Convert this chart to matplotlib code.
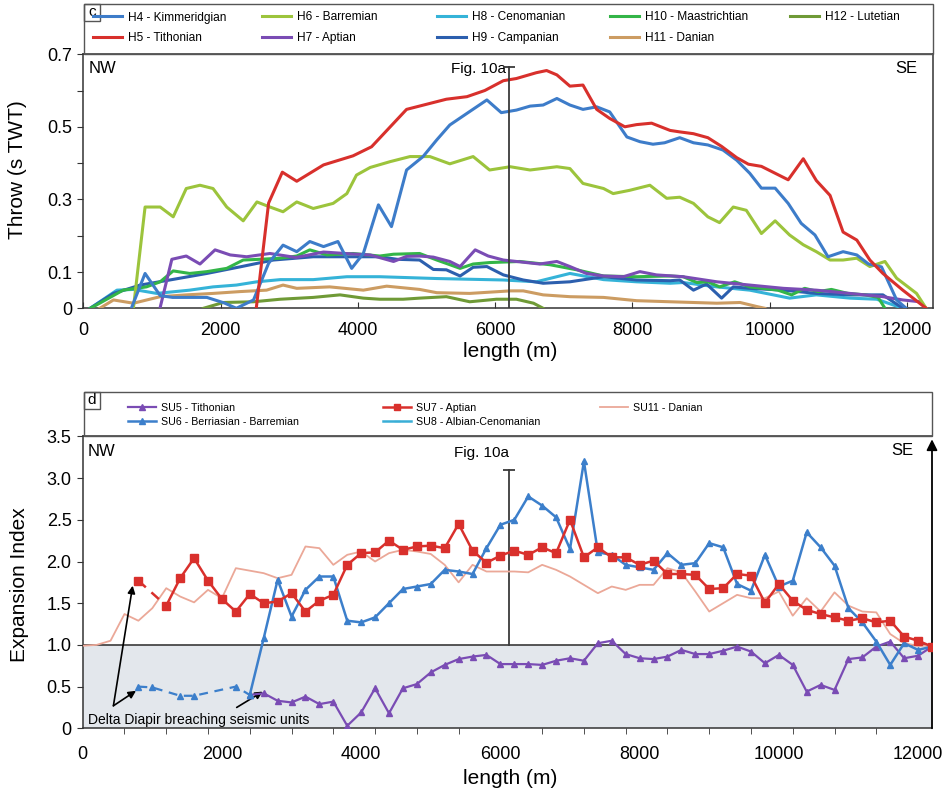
import numpy as np
import matplotlib
matplotlib.use("Agg")
import matplotlib.pyplot as plt
from matplotlib.patches import Rectangle

plt.rcParams['font.family'] = ['Liberation Sans', 'DejaVu Sans']

# ---------------- Panel c: fault throw along strike (length m, throw s TWT) ----------------
h4_kimmeridgian = np.array([
    [700, 0], [900, 0.096], [1120, 0.035], [1300, 0.03], [1500, 0.03], [1800, 0.03], [2050, 0.015],
    [2230, 0.0], [2480, 0.023], [2700, 0.124], [2910, 0.174], [3110, 0.156], [3300, 0.184],
    [3500, 0.17], [3710, 0.184], [3910, 0.11], [4080, 0.151], [4300, 0.285], [4490, 0.225],
    [4710, 0.381], [4950, 0.418], [5150, 0.464], [5340, 0.505], [5590, 0.537], [5880, 0.574],
    [6090, 0.539], [6310, 0.546], [6510, 0.557], [6700, 0.56], [6900, 0.578], [7090, 0.56],
    [7280, 0.548], [7480, 0.555], [7670, 0.541], [7920, 0.472], [8110, 0.459], [8300, 0.452],
    [8470, 0.456], [8690, 0.47], [8890, 0.456], [9100, 0.45], [9320, 0.436], [9520, 0.408],
    [9710, 0.372], [9880, 0.331], [10080, 0.331], [10270, 0.289], [10460, 0.234], [10660, 0.202],
    [10850, 0.142], [11070, 0.156], [11270, 0.147], [11440, 0.122], [11630, 0.114], [11850, 0.023],
    [11990, 0.0]])
h5_tithonian = np.array([
    [2520, 0], [2700, 0.29], [2900, 0.375], [3110, 0.35], [3500, 0.395], [3930, 0.42], [4200, 0.445],
    [4710, 0.548], [5290, 0.576], [5590, 0.583], [5850, 0.6], [6120, 0.627], [6310, 0.633],
    [6600, 0.649], [6750, 0.655], [6900, 0.643], [7090, 0.612], [7280, 0.615], [7480, 0.548],
    [7670, 0.523], [7890, 0.5], [8060, 0.506], [8280, 0.51], [8550, 0.49], [8690, 0.486],
    [8890, 0.481], [9100, 0.47], [9300, 0.446], [9520, 0.415], [9690, 0.397], [9880, 0.391],
    [10270, 0.354], [10490, 0.412], [10680, 0.352], [10880, 0.311], [11070, 0.21], [11270, 0.188],
    [11460, 0.133], [11650, 0.096], [11940, 0.05], [12280, 0.0]])
h6_barremian = np.array([
    [730, 0], [900, 0.279], [1120, 0.279], [1310, 0.252], [1500, 0.33], [1700, 0.339], [1890, 0.33],
    [2090, 0.279], [2330, 0.241], [2530, 0.293], [2720, 0.279], [2910, 0.266], [3110, 0.293],
    [3350, 0.275], [3640, 0.289], [3840, 0.316], [3980, 0.367], [4180, 0.388], [4470, 0.404],
    [4760, 0.418], [5050, 0.418], [5340, 0.398], [5680, 0.418], [5920, 0.381], [6220, 0.39],
    [6510, 0.381], [6900, 0.39], [7090, 0.385], [7280, 0.344], [7580, 0.33], [7720, 0.316],
    [7960, 0.325], [8255, 0.339], [8500, 0.303], [8690, 0.306], [8890, 0.289], [9100, 0.252],
    [9270, 0.236], [9470, 0.279], [9660, 0.27], [9880, 0.206], [10080, 0.241], [10290, 0.202],
    [10490, 0.175], [10680, 0.156], [10880, 0.133], [11070, 0.133], [11270, 0.138], [11460, 0.115],
    [11680, 0.129], [11850, 0.083], [12140, 0.041], [12280, 0.0]])
h7_aptian = np.array([
    [1117, 0], [1290, 0.135], [1500, 0.144], [1700, 0.122], [1920, 0.161], [2140, 0.147],
    [2380, 0.142], [2720, 0.151], [3100, 0.14], [3500, 0.155], [3900, 0.15], [4180, 0.147],
    [4520, 0.129], [4710, 0.143], [4900, 0.144], [5100, 0.141], [5340, 0.129], [5490, 0.115],
    [5710, 0.161], [5900, 0.144], [6120, 0.133], [6310, 0.129], [6650, 0.122], [6900, 0.129],
    [7090, 0.115], [7330, 0.096], [7580, 0.089], [7870, 0.087], [8110, 0.101], [8350, 0.092],
    [8740, 0.087], [9230, 0.073], [9710, 0.064], [10200, 0.055], [10680, 0.05], [11170, 0.041],
    [11650, 0.032], [11940, 0.023], [12190, 0.018], [12280, 0.0]])
h8_cenomanian = np.array([
    [100, 0], [490, 0.05], [730, 0.052], [1070, 0.041], [1550, 0.05], [1890, 0.059], [2230, 0.064],
    [2530, 0.073], [2870, 0.079], [3350, 0.079], [3840, 0.087], [4320, 0.087], [5150, 0.082],
    [6120, 0.078], [6600, 0.073], [7090, 0.096], [7580, 0.079], [8060, 0.073], [8550, 0.069],
    [8740, 0.071], [9230, 0.059], [9710, 0.05], [10290, 0.028], [10680, 0.037], [11170, 0.028],
    [11560, 0.025], [11940, 0.0]])
h9_campanian = np.array([
    [100, 0], [440, 0.041], [830, 0.064], [1260, 0.078], [1800, 0.096], [2280, 0.114], [2770, 0.133],
    [3350, 0.142], [3840, 0.142], [4320, 0.142], [4570, 0.135], [4900, 0.133], [5100, 0.107],
    [5290, 0.106], [5490, 0.089], [5680, 0.113], [5880, 0.115], [6120, 0.092], [6410, 0.078],
    [6700, 0.069], [7090, 0.073], [7580, 0.087], [8060, 0.078], [8550, 0.076], [8690, 0.078],
    [8890, 0.05], [9080, 0.067], [9300, 0.028], [9470, 0.059], [9710, 0.055], [10200, 0.05],
    [10680, 0.041], [11170, 0.037], [11650, 0.037], [11940, 0.0]])
h10_maastrichtian = np.array([
    [100, 0], [200, 0.01], [580, 0.05], [920, 0.059], [1120, 0.073], [1310, 0.103], [1550, 0.096],
    [1800, 0.101], [2090, 0.11], [2330, 0.133], [2570, 0.135], [2870, 0.138], [3110, 0.144],
    [3300, 0.161], [3550, 0.147], [3930, 0.151], [4320, 0.144], [4520, 0.149], [4900, 0.151],
    [5150, 0.133], [5490, 0.11], [5680, 0.122], [5920, 0.126], [6360, 0.129], [6800, 0.12],
    [7190, 0.106], [7580, 0.089], [8060, 0.087], [8550, 0.089], [8740, 0.087], [8940, 0.071],
    [9100, 0.073], [9270, 0.059], [9490, 0.073], [9710, 0.059], [9900, 0.055], [10120, 0.05],
    [10320, 0.037], [10510, 0.055], [10710, 0.046], [10900, 0.052], [11140, 0.041], [11390, 0.037],
    [11580, 0.03], [11680, 0.0]])
h11_danian = np.array([
    [240, 0], [440, 0.023], [730, 0.014], [1120, 0.032], [1500, 0.037], [1890, 0.041], [2280, 0.046],
    [2670, 0.05], [2910, 0.064], [3110, 0.055], [3590, 0.059], [4080, 0.05], [4420, 0.061],
    [4900, 0.052], [5150, 0.043], [5630, 0.041], [6220, 0.048], [6410, 0.048], [6700, 0.037],
    [7090, 0.032], [7580, 0.03], [8060, 0.021], [8550, 0.018], [9230, 0.014], [9570, 0.016],
    [9810, 0.005], [9930, 0.0]])
h12_lutetian = np.array([
    [1750, 0], [2040, 0.016], [2480, 0.018], [2870, 0.025], [3350, 0.03], [3740, 0.037], [4080, 0.028],
    [4320, 0.025], [4660, 0.025], [4900, 0.028], [5290, 0.032], [5630, 0.018], [6020, 0.025],
    [6310, 0.025], [6560, 0.014], [6700, 0.0]])

horizon_labels = ['H4 - Kimmeridgian', 'H5 - Tithonian', 'H6 - Barremian', 'H7 - Aptian',
                  'H8 - Cenomanian', 'H9 - Campanian', 'H10 - Maastrichtian', 'H11 - Danian',
                  'H12 - Lutetian']
horizon_data = [h4_kimmeridgian, h5_tithonian, h6_barremian, h7_aptian, h8_cenomanian,
                h9_campanian, h10_maastrichtian, h11_danian, h12_lutetian]
horizon_colors = ['#3d7cc9', '#d8302c', '#9cc43c', '#7a4cb4', '#35b3d8', '#2c5fae',
                  '#33b548', '#cc9c62', '#6f9a36']
draw_order = [8, 7, 4, 5, 6, 3, 2, 0, 1]

fig10a_top = 6200
fig10a_top_height = 0.666

# ---------------- Panel d: expansion index ----------------
su7_x = [800] + list(range(1200, 12201, 200))
su7_aptian = [1.77,
              1.47, 1.80, 2.04, 1.77, 1.55, 1.40, 1.61, 1.50, 1.52, 1.62, 1.40, 1.53, 1.60, 1.96,
              2.10, 2.11, 2.25, 2.14, 2.18, 2.19, 2.16, 2.45, 2.13, 1.985, 2.07, 2.13, 2.08, 2.17,
              2.10, 2.50, 2.05, 2.17, 2.05, 2.05, 1.96, 2.01, 1.85, 1.85, 1.84, 1.67, 1.68, 1.85,
              1.83, 1.505, 1.73, 1.53, 1.42, 1.37, 1.33, 1.29, 1.32, 1.27, 1.29, 1.10, 1.05, 0.98]

su6_breach_x = [800, 1000, 1400, 1600, 2200, 2400]
su6_breach = [0.50, 0.49, 0.39, 0.39, 0.50, 0.40]
su6_x = list(range(2400, 12201, 200))
su6_berriasian_barremian = [
    0.40, 1.08, 1.78, 1.34, 1.66, 1.82, 1.82, 1.29, 1.27, 1.33, 1.50, 1.67, 1.70, 1.73, 1.90,
    1.88, 1.85, 2.16, 2.44, 2.50, 2.78, 2.67, 2.53, 2.15, 3.20, 2.11, 2.08, 1.96, 1.93, 1.90,
    2.10, 1.96, 1.98, 2.22, 2.17, 1.73, 1.65, 2.08, 1.70, 1.77, 2.35, 2.17, 1.95, 1.44, 1.27,
    1.04, 0.76, 1.02, 0.94, 0.98]

su5_x = list(range(2400, 12201, 200))
su5_tithonian = [
    0.40, 0.42, 0.33, 0.31, 0.38, 0.29, 0.32, 0.03, 0.19, 0.48, 0.18, 0.48, 0.53, 0.67, 0.76,
    0.83, 0.86, 0.88, 0.77, 0.77, 0.77, 0.76, 0.81, 0.84, 0.81, 1.02, 1.05, 0.89, 0.84, 0.83,
    0.86, 0.94, 0.89, 0.89, 0.93, 0.98, 0.92, 0.78, 0.88, 0.76, 0.44, 0.52, 0.46, 0.83, 0.85,
    0.98, 1.04, 0.84, 0.87, 0.98]

su11_x = [0, 200] + list(range(400, 12201, 200))
su11_danian = [
    0.99, 1.00, 1.05, 1.37, 1.29, 1.44, 1.68, 1.58, 1.51, 1.66, 1.56, 1.92, 1.89, 1.86, 1.80,
    1.84, 2.18, 2.16, 1.96, 2.08, 2.12, 2.00, 2.10, 2.14, 2.12, 2.09, 1.96, 1.75, 1.96, 1.88,
    1.88, 1.88, 1.87, 1.96, 1.90, 1.82, 1.72, 1.62, 1.70, 1.66, 1.72, 1.72, 1.92, 1.87, 1.64,
    1.40, 1.50, 1.60, 1.56, 1.56, 1.64, 1.35, 1.56, 1.40, 1.63, 1.47, 1.40, 1.39, 1.13, 1.02,
    0.99, 0.99]

su8_x = []
su8_albian_cenomanian = []

fig10a_bottom = 6130
fig10a_bottom_height = 3.1
x_end_bottom = 12200

# ---------------- figure layout (pixel based) ----------------
W, H = 949, 797
fig = plt.figure(figsize=(W / 100, H / 100), dpi=100)


def fx(px):
    return px / W


def fy(py):
    return 1 - py / H


ax1 = fig.add_axes([fx(83.3), fy(308.3), fx(933) - fx(83.3), fy(54.2) - fy(308.3)])
ax2 = fig.add_axes([fx(82.7), fy(728.3), fx(932) - fx(82.7), fy(436.4) - fy(728.3)])

spine_col = '#333333'
for ax in (ax1, ax2):
    for s in ax.spines.values():
        s.set_color(spine_col)
        s.set_linewidth(1.1)

# ---- panel c ----
for i in draw_order:
    d = horizon_data[i]
    ax1.plot(d[:, 0], d[:, 1], color=horizon_colors[i], lw=2.2, solid_joinstyle='round',
             label=horizon_labels[i], zorder=3)

ax1.plot([fig10a_top, fig10a_top], [0, fig10a_top_height], color='#3a3a3a', lw=1.3, zorder=4)
ax1.plot([fig10a_top], [fig10a_top_height], marker='_', ms=8, mew=1.3, color='#3a3a3a', zorder=4)
ax1.annotate('Fig. 10a', xy=(fig10a_top, fig10a_top_height), xytext=(-2, -2),
             textcoords='offset points', ha='right', va='center', fontsize=11)

ax1.set_xlim(0, 12380)
ax1.set_ylim(0, 0.7)
ax1.set_xticks(range(0, 12001, 2000))
ax1.set_xticklabels([str(v) for v in range(0, 12001, 2000)])
ax1.set_yticks(np.round(np.arange(0, 0.71, 0.1), 1))
ax1.set_yticklabels(['0', '0.1', '', '0.3', '', '0.5', '', '0.7'])
ax1.tick_params(axis='x', direction='in', length=4, labelsize=13, pad=10, color=spine_col)
ax1.tick_params(axis='y', direction='out', length=4, labelsize=13, pad=4, color=spine_col)
ax1.text(0.006, 0.945, 'NW', transform=ax1.transAxes, ha='left', va='center', fontsize=12)
ax1.text(0.982, 0.945, 'SE', transform=ax1.transAxes, ha='right', va='center', fontsize=12)

fig.text(fx(510), fy(351), 'length (m)', ha='center', va='center', fontsize=15)
fig.text(fx(18), fy(170), 'Throw (s TWT)', ha='center', va='center', rotation=90, fontsize=15)

# legend frame and panel letter for c
fig.patches.append(Rectangle((fx(84), fy(54)), fx(933) - fx(84), fy(4) - fy(54),
                             transform=fig.transFigure, fill=False, edgecolor='#555555', lw=1.0))
fig.patches.append(Rectangle((fx(84), fy(21)), fx(100) - fx(84), fy(4) - fy(21),
                             transform=fig.transFigure, fill=False, edgecolor='#555555', lw=1.0))
fig.text(fx(92), fy(12), 'c', ha='center', va='center', fontsize=11)

handles1 = {lab: h for h, lab in zip(*ax1.get_legend_handles_labels())}
top_columns = [(93, ['H4 - Kimmeridgian', 'H5 - Tithonian']),
               (262, ['H6 - Barremian', 'H7 - Aptian']),
               (437, ['H8 - Cenomanian', 'H9 - Campanian']),
               (610, ['H10 - Maastrichtian', 'H11 - Danian']),
               (790, ['H12 - Lutetian'])]
for xpx, labs in top_columns:
    fig.legend([handles1[l] for l in labs], labs, loc='upper left',
               bbox_to_anchor=(fx(xpx), fy(11.5)), frameon=False, borderpad=0, borderaxespad=0,
               handlelength=2.4, handletextpad=0.5, labelspacing=0.75, fontsize=8.6)

# ---- panel d ----
ax2.fill_between([0, x_end_bottom], 0, 1, color='#e3e7ec', zorder=0, lw=0)
ax2.axhline(1.0, color='#3a3a3a', lw=1.2, zorder=1)
ax2.plot([fig10a_bottom, fig10a_bottom], [1.0, fig10a_bottom_height], color='#3a3a3a', lw=1.3, zorder=2)
ax2.plot([fig10a_bottom], [fig10a_bottom_height], marker='_', ms=8, mew=1.3, color='#3a3a3a', zorder=2)
ax2.text(fig10a_bottom, 3.30, 'Fig. 10a', ha='right', va='center', fontsize=11)

c_su5, c_su6, c_su7, c_su11, c_su8 = '#7a4cb4', '#3c7fcb', '#d9302c', '#eba898', '#3aaed6'

ax2.plot(su11_x, su11_danian, color=c_su11, lw=1.3, zorder=3, label='SU11 - Danian')
ax2.plot(su5_x, su5_tithonian, color=c_su5, lw=1.6, marker='^', ms=5, zorder=4,
         label='SU5 - Tithonian')
ax2.plot(su6_breach_x, su6_breach, color=c_su6, lw=1.6, ls=(0, (4, 3)), marker='^', ms=5, zorder=4)
ax2.plot(su6_x, su6_berriasian_barremian, color=c_su6, lw=1.8, marker='^', ms=5, zorder=5,
         label='SU6 - Berriasian - Barremian')
ax2.plot(su7_x[:2], su7_aptian[:2], color=c_su7, lw=1.8, ls=(0, (4, 3)), zorder=6)
ax2.plot(su7_x[0], su7_aptian[0], color=c_su7, marker='s', ms=6, zorder=6)
ax2.plot(su7_x[1:], su7_aptian[1:], color=c_su7, lw=1.8, marker='s', ms=6, zorder=6,
         label='SU7 - Aptian')
ax2.plot(su8_x, su8_albian_cenomanian, color=c_su8, lw=1.8, marker='_', ms=6,
         label='SU8 - Albian-Cenomanian')

ax2.set_xlim(0, x_end_bottom)
ax2.set_ylim(0, 3.5)
ax2.set_xticks(range(0, 12001, 2000))
ax2.set_xticklabels([str(v) for v in range(0, 12001, 2000)])
ax2.set_xticks(range(0, 12001, 600), minor=True)
ax2.set_yticks(np.arange(0, 3.51, 0.5))
ax2.set_yticklabels(['0', '0.5', '1.0', '1.5', '2.0', '2.5', '3.0', '3.5'])
ax2.tick_params(axis='x', which='major', length=0, labelsize=13, pad=13)
ax2.tick_params(axis='x', which='minor', direction='out', length=4, color=spine_col)
ax2.tick_params(axis='y', direction='out', length=4, labelsize=13, pad=4, color=spine_col)
ax2.spines['right'].set_visible(False)
ax2.annotate('', xy=(1, 0.99), xytext=(1, 0), xycoords='axes fraction',
             arrowprops=dict(arrowstyle='-|>', color='black', lw=1.3, mutation_scale=16,
                             shrinkA=0, shrinkB=0))
ax2.text(0.006, 0.947, 'NW', transform=ax2.transAxes, ha='left', va='center', fontsize=12)
ax2.text(0.978, 0.952, 'SE', transform=ax2.transAxes, ha='right', va='center', fontsize=12)

ax2.text(76, 0.10, 'Delta Diapir breaching seismic units', ha='left', va='center', fontsize=10)
arrow_kw = dict(arrowstyle='-|>', color='black', lw=1.2, mutation_scale=11, shrinkA=0, shrinkB=0)
ax2.annotate('', xy=(718, 1.71), xytext=(441, 0.27), arrowprops=arrow_kw)
ax2.annotate('', xy=(766, 0.45), xytext=(441, 0.27), arrowprops=arrow_kw)
ax2.annotate('', xy=(2586, 0.44), xytext=(2212, 0.25), arrowprops=arrow_kw)

fig.text(fx(510), fy(778), 'length (m)', ha='center', va='center', fontsize=15)
fig.text(fx(20), fy(585), 'Expansion Index', ha='center', va='center', rotation=90, fontsize=15)

fig.patches.append(Rectangle((fx(84), fy(436)), fx(932) - fx(84), fy(392) - fy(436),
                             transform=fig.transFigure, fill=False, edgecolor='#555555', lw=1.0))
fig.patches.append(Rectangle((fx(84), fy(409)), fx(100) - fx(84), fy(392) - fy(409),
                             transform=fig.transFigure, fill=False, edgecolor='#555555', lw=1.0))
fig.text(fx(92), fy(400), 'd', ha='center', va='center', fontsize=11)

handles2 = {lab: h for h, lab in zip(*ax2.get_legend_handles_labels())}
bottom_columns = [(128, ['SU5 - Tithonian', 'SU6 - Berriasian - Barremian']),
                  (383, ['SU7 - Aptian', 'SU8 - Albian-Cenomanian']),
                  (600, ['SU11 - Danian'])]
for xpx, labs in bottom_columns:
    fig.legend([handles2[l] for l in labs], labs, loc='upper left',
               bbox_to_anchor=(fx(xpx), fy(402.5)), frameon=False, borderpad=0, borderaxespad=0,
               handlelength=2.6, handletextpad=0.5, labelspacing=0.4, fontsize=7.7,
               markerscale=0.8)

fig.savefig('out.png', dpi=100)
